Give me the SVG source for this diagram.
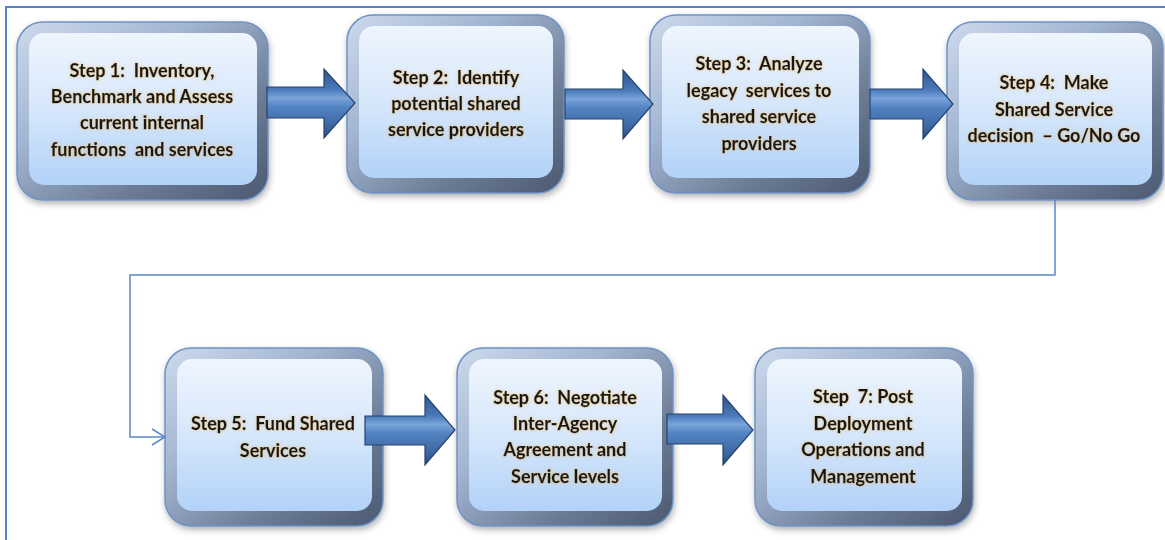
<svg xmlns="http://www.w3.org/2000/svg" width="1165" height="540" viewBox="0 0 1165 540">
  <style>
    .frame { fill: none; stroke: #5585c2; stroke-width: 2; }
    .bevel { fill: url(#bevelGrad); stroke: #6f93c6; stroke-width: 1.5; }
    .face { fill: url(#faceGrad); }
    .label { font-family: Lato, "Open Sans", "Liberation Sans", sans-serif; font-weight: bold; font-size: 18px; fill: #141414; stroke: #141414; stroke-width: 0.25; text-anchor: middle; white-space: pre; filter: url(#glow); }
    .block { fill: url(#arrowGrad); stroke: #24436e; stroke-width: 1.2; stroke-linejoin: miter; }
    .link { fill: none; stroke: #5b88c6; stroke-width: 1.5; }
  </style>
  <defs>
    <linearGradient id="bevelGrad" x1="0" y1="0" x2="1" y2="1">
      <stop offset="0" stop-color="#cddaec"/>
      <stop offset="0.35" stop-color="#a2b5d1"/>
      <stop offset="0.7" stop-color="#6c7c95"/>
      <stop offset="1" stop-color="#4b5870"/>
    </linearGradient>
    <linearGradient id="faceGrad" x1="0" y1="0" x2="0" y2="1">
      <stop offset="0" stop-color="#eef5fd"/>
      <stop offset="0.5" stop-color="#d6e7fb"/>
      <stop offset="1" stop-color="#b2d2f8"/>
    </linearGradient>
    <linearGradient id="arrowGrad" x1="0" y1="0" x2="0" y2="1">
      <stop offset="0" stop-color="#30538a"/>
      <stop offset="0.3" stop-color="#4a7aba"/>
      <stop offset="0.42" stop-color="#7aa4da"/>
      <stop offset="0.55" stop-color="#5383c3"/>
      <stop offset="0.85" stop-color="#3c659e"/>
      <stop offset="1" stop-color="#274672"/>
    </linearGradient>
    <filter id="shadow" x="-10%" y="-10%" width="125%" height="130%">
      <feDropShadow dx="1" dy="3" stdDeviation="3" flood-color="#000" flood-opacity="0.3"/>
    </filter>
    <filter id="glow" x="-5%" y="-30%" width="110%" height="160%">
      <feMorphology in="SourceAlpha" operator="dilate" radius="0.6" result="d"/>
      <feGaussianBlur in="d" stdDeviation="0.9" result="b"/>
      <feFlood flood-color="#f0bd6a" flood-opacity="0.35"/>
      <feComposite in2="b" operator="in" result="g"/>
      <feMerge><feMergeNode in="g"/><feMergeNode in="SourceGraphic"/></feMerge>
    </filter>
    <marker id="chevron" viewBox="0 0 16 20" refX="15" refY="10" markerWidth="16" markerHeight="20" markerUnits="userSpaceOnUse" orient="auto">
      <path d="M2,2 L15,10 L2,18" fill="none" stroke="#5b88c6" stroke-width="1.5"/>
    </marker>
  </defs>

  <!-- outer frame -->
  <rect class="frame" x="6" y="7" width="1180" height="560"/>

  <!-- process steps -->
  <g id="step1" filter="url(#shadow)">
    <rect class="bevel" x="17" y="22" width="251" height="178" rx="26"/>
    <rect class="face" x="29" y="33" width="228" height="152" rx="15"/>
    <text class="label" x="142" y="77">Step 1:  Inventory,</text>
    <text class="label" x="142" y="103">Benchmark and Assess</text>
    <text class="label" x="142" y="129">current internal</text>
    <text class="label" x="142" y="156">functions  and services</text>
  </g>

  <g id="step2" filter="url(#shadow)">
    <rect class="bevel" x="347" y="15" width="217" height="178" rx="26"/>
    <rect class="face" x="359" y="26" width="194" height="152" rx="15"/>
    <text class="label" x="456" y="84">Step 2:  Identify</text>
    <text class="label" x="456" y="110">potential shared</text>
    <text class="label" x="456" y="136">service providers</text>
  </g>

  <g id="step3" filter="url(#shadow)">
    <rect class="bevel" x="650" y="15" width="220" height="178" rx="26"/>
    <rect class="face" x="662" y="26" width="197" height="152" rx="15"/>
    <text class="label" x="759" y="70">Step 3:  Analyze</text>
    <text class="label" x="759" y="97">legacy  services to</text>
    <text class="label" x="759" y="123">shared service</text>
    <text class="label" x="759" y="150">providers</text>
  </g>

  <g id="step4" filter="url(#shadow)">
    <rect class="bevel" x="947" y="22" width="216" height="178" rx="26"/>
    <rect class="face" x="959" y="33" width="193" height="152" rx="15"/>
    <text class="label" x="1054" y="89">Step 4:  Make</text>
    <text class="label" x="1054" y="116">Shared Service</text>
    <text class="label" x="1054" y="142">decision  – Go/No Go</text>
  </g>

  <g id="step5" filter="url(#shadow)">
    <rect class="bevel" x="165" y="348" width="218" height="178" rx="26"/>
    <rect class="face" x="177" y="359" width="195" height="152" rx="15"/>
    <text class="label" x="273" y="430">Step 5:  Fund Shared</text>
    <text class="label" x="273" y="457">Services</text>
  </g>

  <g id="step6" filter="url(#shadow)">
    <rect class="bevel" x="457" y="348" width="216" height="178" rx="26"/>
    <rect class="face" x="469" y="359" width="193" height="152" rx="15"/>
    <text class="label" x="565" y="404">Step 6:  Negotiate</text>
    <text class="label" x="565" y="430">Inter-Agency</text>
    <text class="label" x="565" y="456">Agreement and</text>
    <text class="label" x="565" y="483">Service levels</text>
  </g>

  <g id="step7" filter="url(#shadow)">
    <rect class="bevel" x="755" y="348" width="218" height="178" rx="26"/>
    <rect class="face" x="767" y="359" width="195" height="152" rx="15"/>
    <text class="label" x="863" y="403">Step  7: Post</text>
    <text class="label" x="863" y="430">Deployment</text>
    <text class="label" x="863" y="456">Operations and</text>
    <text class="label" x="863" y="483">Management</text>
  </g>

  <!-- connectors -->
  <g id="connectors">
    <polygon class="block" points="267,87 324,87 324,69 355,103 324,138 324,118 267,118"/>
    <polygon class="block" points="565,89 623,89 623,70 653,104 623,139 623,119 565,119"/>
    <polygon class="block" points="870,89 923,89 923,69 953,104 923,139 923,119 870,119"/>
    <polygon class="block" points="365,416 425,416 425,395 455,430 425,465 425,445 365,445"/>
    <polygon class="block" points="667,414 723,414 723,395 753,430 723,465 723,444 667,444"/>
    <path class="link" d="M1055,200 V275 H130 V437 H165" marker-end="url(#chevron)"/>
  </g>
</svg>
